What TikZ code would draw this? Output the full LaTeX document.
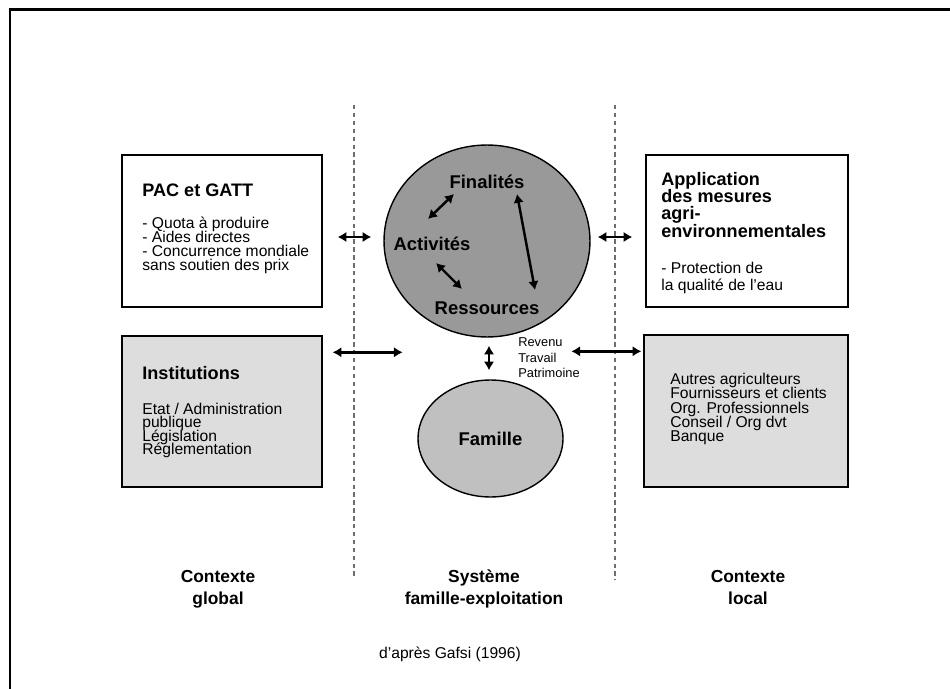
\documentclass[tikz,border=0pt]{standalone}
\usepackage{fontspec}
\setmainfont{Liberation Sans}
\usetikzlibrary{shapes.geometric,arrows.meta}
\definecolor{circgray}{RGB}{153,153,153}
\definecolor{famgray}{RGB}{192,192,192}
\definecolor{boxgray}{RGB}{221,221,221}
\definecolor{sepgray}{RGB}{110,110,110}
\newcommand{\fixedlines}{\lineskiplimit -20pt\relax}

\begin{document}
\begin{tikzpicture}[x=0.02cm, y=-0.02cm,
  box/.style={draw, line width=0.8pt, inner sep=0pt},
  title/.style={font=\fontsize{10.3}{9.7}\selectfont\bfseries\fixedlines, align=left, inner sep=0pt, anchor=base west},
  body/.style={font=\fontsize{8.9}{8.1}\selectfont\fixedlines, align=left, inner sep=0pt, anchor=base west},
  word/.style={font=\fontsize{10.5}{12}\selectfont\bfseries, inner sep=0pt},
  legend/.style={font=\fontsize{9.9}{12.5}\selectfont\bfseries, align=center, inner sep=0pt, anchor=base},
  twoway/.style={{Latex[length=5pt,width=6pt]}-{Latex[length=5pt,width=6pt]}, line width=1.4pt},
  sep/.style={sepgray, dash pattern=on 2.5pt off 2pt, line width=0.7pt}]
\useasboundingbox (0,0) rectangle (950,689);
% cadre
\draw[line width=1.7pt] (10,689) -- (10,9.5) -- (950,9.5);

% separations
\draw[sep] (354,105) -- (354,577);
\draw[sep] (615,105) -- (615,580);

% contexte global (base = derniere ligne)
\node[box, minimum width=4cm, minimum height=3.04cm] (pac) at (222,231) {};
\node[title] (pact) at (142,196.5) {PAC et GATT};
\node[body] (pacb) at (142,271) {- Quota à produire\\- Aides directes\\- Concurrence mondiale\\sans soutien des prix};
\node[box, fill=boxgray, minimum width=4cm, minimum height=3.02cm] (inst) at (222,411.5) {};
\node[title] (instt) at (142,379.5) {Institutions};
\node[body, font=\fontsize{8.9}{7.6}\selectfont\fixedlines] (instb) at (142,454.5) {Etat / Administration\\publique\\Législation\\Réglementation};

% systeme famille-exploitation
\node[ellipse, draw, line width=0.8pt, fill=circgray, minimum width=4.12cm, minimum height=3.84cm] (sys) at (487,241) {};
\node[word] (fin) at (487,182) {Finalités};
\node[word] (act) at (432,244) {Activités};
\node[word] (res) at (487,308) {Ressources};
\node[ellipse, draw, line width=0.8pt, fill=famgray, minimum width=2.9cm, minimum height=2.34cm, font=\fontsize{10.5}{12}\selectfont\bfseries] (fam) at (490.5,438.5) {Famille};
\node[font=\fontsize{7.3}{8.8}\selectfont, align=left, inner sep=0pt, anchor=base west] (flux) at (518,377.5) {Revenu\\Travail\\Patrimoine};

% contexte local
\node[box, minimum width=4.04cm, minimum height=3.04cm] (app) at (747,231) {};
\node[title] (appt) at (661,237) {Application\\des mesures\\agri-\\environnementales};
\node[body, font=\fontsize{8.9}{9.8}\selectfont] (appb) at (661,291) {- Protection de\\la qualité de l’eau};
\node[box, fill=boxgray, minimum width=4.08cm, minimum height=3.04cm] (loc) at (746,411) {};
\node[body] (locb) at (670,441.5) {Autres agriculteurs\\Fournisseurs et clients\\Org. Professionnels\\Conseil / Org dvt\\Banque};

% legendes
\node[legend] (glob) at (218,604.5) {Contexte\\global};
\node[legend] (sysl) at (484,604.5) {Système\\famille-exploitation};
\node[legend] (locl) at (748,604.5) {Contexte\\local};
\node[font=\fontsize{8.9}{10}\selectfont] (src) at (450,654) {d’après Gafsi (1996)};

% fleches
\draw[twoway] ([shift={(15,6)}]pac.east) -- ([shift={(-12,-4)}]sys.west);
\draw[twoway] ([shift={(7,-4)}]sys.east) -- ([shift={(-13,6)}]app.west);
\draw[twoway] ([shift={(10,17)}]inst.north east) -- ++(70,0);
\draw[twoway] ([shift={(-2,17)}]loc.north west) -- ++(-70,0);
\draw[twoway] ([shift={(2,8)}]sys.south) -- ([shift={(-1.5,-9)}]fam.north);
\draw[twoway] ([shift={(-4,-25)}]act.center) -- ([shift={(-33,12)}]fin.center);
\draw[twoway] ([shift={(4,19)}]act.center) -- ([shift={(-25,-19)}]res.center);
\draw[twoway] ([shift={(30,12)}]fin.center) -- ([shift={(48,-18)}]res.center);
\end{tikzpicture}
\end{document}
